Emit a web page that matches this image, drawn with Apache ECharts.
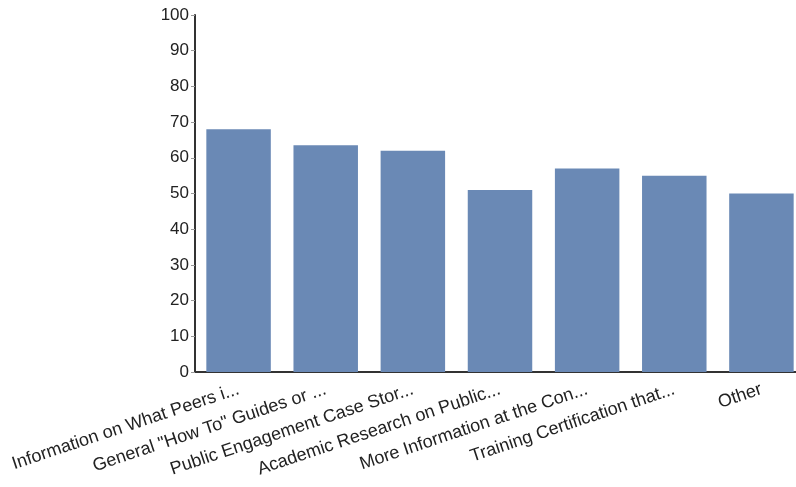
<!DOCTYPE html>
<html>
<head>
<meta charset="utf-8">
<script src="https://cdn.jsdelivr.net/npm/echarts@6/dist/echarts.min.js"></script>
<style>
  html, body { margin: 0; padding: 0; background: #fff; overflow: hidden; }
  #wrap { width: 796px; height: 487px; overflow: hidden; }
  /* plot area runs slightly past the right edge of the view */
  #chart { width: 805px; height: 487px; }
</style>
</head>
<body>
<div id="wrap"><div id="chart"></div></div>
<script>
const categories = [
  'Information on What Peers i...',
  'General "How To" Guides or ...',
  'Public Engagement Case Stor...',
  'Academic Research on Public...',
  'More Information at the Con...',
  'Training Certification that...',
  'Other'
];
const values = [68, 63.5, 62, 51, 57, 55, 50];
const yTicks = { min: 0, max: 100, interval: 10 };

const chart = echarts.init(document.getElementById('chart'));
chart.setOption({
  animation: false,
  grid: { left: 195, top: 15, right: 0, height: 357 },
  xAxis: {
    type: 'category',
    data: categories,
    axisLine: { lineStyle: { color: '#333', width: 2 } },
    axisTick: { alignWithLabel: true, length: 4, lineStyle: { color: '#999' } },
    axisLabel: {
      rotate: 18.5, interval: 0, margin: 17,
      color: '#222', fontSize: 18, fontFamily: 'Liberation Sans, Arial, sans-serif'
    }
  },
  yAxis: {
    type: 'value',
    min: yTicks.min, max: yTicks.max, interval: yTicks.interval,
    splitLine: { show: false },
    axisLine: { show: true, lineStyle: { color: '#333', width: 2 } },
    axisTick: { show: true, length: 4, lineStyle: { color: '#999' } },
    axisLabel: {
      margin: 6, color: '#222', fontSize: 17,
      fontFamily: 'Liberation Sans, Arial, sans-serif'
    }
  },
  series: [{
    type: 'bar',
    data: values,
    barCategoryGap: '26%',
    itemStyle: { color: '#6a89b5' }
  }]
});
</script>
</body>
</html>
